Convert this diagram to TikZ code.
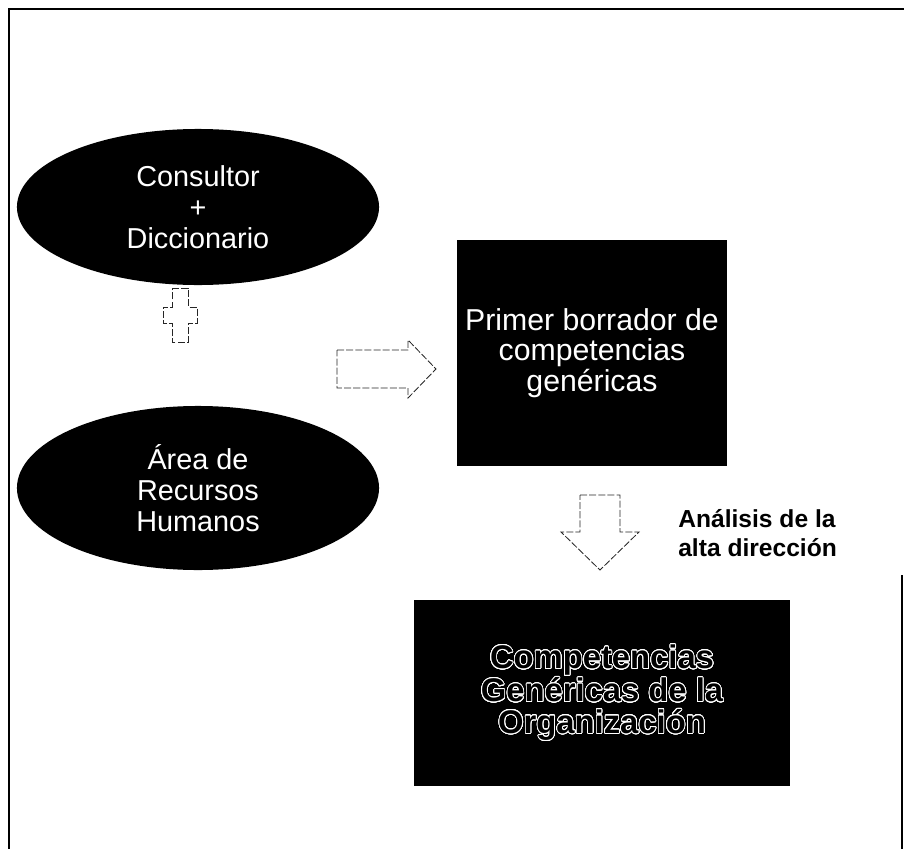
\documentclass[tikz,border=0pt]{standalone}
\usepackage{fontspec}
\setmainfont{Liberation Sans}
\usepackage{contour}
\usetikzlibrary{shapes.geometric}
\contourlength{0.6pt}
\contournumber{32}

\begin{document}
\begin{tikzpicture}[x=0.025cm, y=-0.025cm]
\tikzstyle{oval}=[ellipse, fill=black, text=white, align=center, inner sep=0pt, minimum width=9.05cm, font=\fontsize{20.5}{22}\selectfont]
\tikzstyle{darkbox}=[rectangle, fill=black, text=white, align=center, inner sep=0pt, font=\fontsize{21.5}{21.5}\selectfont]
\tikzstyle{hollow}=[draw=black!85, line width=0.6pt, dash pattern=on 5pt off 1.5pt]

\useasboundingbox (0,0) rectangle (904,849);

% Draw the page frame
\draw[line width=1.6pt] (9,849) -- (9,9) -- (904,9);
\draw[line width=1.6pt] (902,575) -- (902,849);

% Draw the two sources on the left
\node[oval, minimum height=3.9cm] (consultor) at (198,207) {Consultor\\+\\Diccionario};
\node[oval, minimum height=4.1cm] (rrhh) at (198,488) {Área de\\Recursos\\Humanos};

% Draw the plus sign between them
\coordinate (mas) at (180,315);
\draw[hollow, shift={(mas)}] (-8,-27) -- (8,-27) -- (8,-8) -- (17,-8) -- (17,8) -- (8,8)
  -- (8,27) -- (-8,27) -- (-8,8) -- (-17,8) -- (-17,-8) -- (-8,-8) -- cycle;

% Draw the first draft box
\node[darkbox, minimum width=6.75cm, minimum height=5.65cm] (borrador) at (592,353) {Primer borrador de\\competencias\\genéricas};

% Draw the hollow arrows
\coordinate (derecha) at (337,369);
\draw[hollow, shift={(derecha)}] (0,-19) -- (71,-19) -- (71,-29) -- (99,0) -- (71,29) -- (71,19) -- (0,19) -- cycle;
\coordinate (abajo) at (600,495);
\draw[hollow, shift={(abajo)}] (-20,0) -- (20,0) -- (20,37) -- (39,37) -- (0,75) -- (-39,37) -- (-20,37) -- cycle;

% Annotate the down arrow
\node[anchor=north west, align=left, inner sep=0pt, font=\bfseries\fontsize{17.5}{21}\selectfont] (analisis) at (678,509) {Análisis de la\\alta dirección};

% Draw the final box
\node[darkbox, text=black, minimum width=9.375cm, minimum height=4.625cm, font=\bfseries\fontsize{23.3}{22.5}\selectfont] (genericas) at (602,693)
  {\contour{white}{Competencias}\\\contour{white}{Genéricas de la}\\\contour{white}{Organización}};

\end{tikzpicture}
\end{document}
